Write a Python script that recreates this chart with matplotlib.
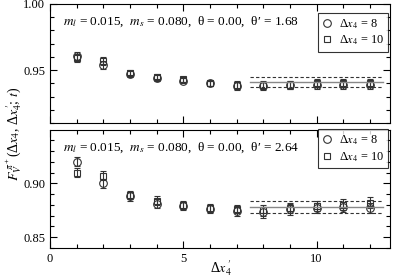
import matplotlib
matplotlib.use("Agg")
import matplotlib.pyplot as plt
import numpy as np
from matplotlib.ticker import MultipleLocator

plt.rcParams['font.family'] = ['Liberation Serif', 'DejaVu Serif']
plt.rcParams['mathtext.fontset'] = 'stix'

x = [1, 2, 3, 4, 5, 6, 7, 8, 9, 10, 11, 12]

# top panel (theta' = 1.68)
top_c = [0.961, 0.954, 0.947, 0.944, 0.942, 0.940, 0.938, 0.938, 0.939, 0.939, 0.939, 0.939]
top_c_err = [0.003, 0.003, 0.002, 0.002, 0.002, 0.002, 0.003, 0.003, 0.003, 0.003, 0.003, 0.003]
top_s = [0.959, 0.957, 0.948, 0.945, 0.943, 0.940, 0.939, 0.939, 0.939, 0.940, 0.940, 0.940]
top_s_err = [0.003, 0.003, 0.002, 0.002, 0.002, 0.002, 0.003, 0.003, 0.003, 0.003, 0.003, 0.003]
top_fit = [0.941, 0.9375, 0.9445]

# bottom panel (theta' = 2.64)
bot_c = [0.920, 0.900, 0.888, 0.881, 0.879, 0.876, 0.874, 0.873, 0.876, 0.877, 0.878, 0.877]
bot_c_err = [0.004, 0.004, 0.004, 0.004, 0.004, 0.004, 0.004, 0.005, 0.005, 0.005, 0.005, 0.005]
bot_s = [0.910, 0.907, 0.889, 0.884, 0.880, 0.877, 0.876, 0.875, 0.877, 0.879, 0.880, 0.882]
bot_s_err = [0.004, 0.004, 0.004, 0.004, 0.004, 0.004, 0.004, 0.005, 0.005, 0.005, 0.005, 0.005]
bot_fit = [0.878, 0.872, 0.884]

fit_range = [7.5, 12.5]

texts = ["$m_l$ = 0.015,  $m_s$ = 0.080,  θ = 0.00,  θ′ = 1.68",
         "$m_l$ = 0.015,  $m_s$ = 0.080,  θ = 0.00,  θ′ = 2.64"]
leg_labels = ["Δ$x_4$ = 8", "Δ$x_4$ = 10"]

fig = plt.figure(figsize=(3.99, 2.80), dpi=100)
L, R = 50/399, 390/399
ax1 = fig.add_axes([L, 1-123/280, R-L, (123-4)/280])
ax2 = fig.add_axes([L, 1-248/280, R-L, (248-129.5)/280])

def panel(ax, c, ce, s, se, fit, txt, ylim, legy):
    ekw = dict(fmt='none', ecolor='#333333', elinewidth=0.8, capsize=2.5, capthick=0.8)
    ax.errorbar(x, c, yerr=ce, **ekw)
    ax.errorbar(x, s, yerr=se, **ekw)
    ax.plot(x, c, 'o', mfc='none', mec='#333333', ms=5.5, mew=0.8, ls='none', label=leg_labels[0])
    ax.plot(x, s, 's', mfc='none', mec='#333333', ms=5, mew=0.8, ls='none', label=leg_labels[1])
    ax.plot(fit_range, [fit[0]]*2, color='#888888', lw=1.0)
    ax.plot(fit_range, [fit[1]]*2, color='#333333', lw=0.8, ls=(0, (3, 2)))
    ax.plot(fit_range, [fit[2]]*2, color='#333333', lw=0.8, ls=(0, (3, 2)))
    ax.set_xlim(0, 12.75)
    ax.set_ylim(*ylim)
    ax.xaxis.set_major_locator(MultipleLocator(5))
    ax.xaxis.set_minor_locator(MultipleLocator(1))
    ax.yaxis.set_major_locator(MultipleLocator(0.05))
    ax.yaxis.set_minor_locator(MultipleLocator(0.01))
    ax.tick_params(which='both', direction='in', top=True, right=True, labelsize=9, width=0.8)
    ax.tick_params(which='major', length=5)
    ax.tick_params(which='minor', length=3)
    ax.yaxis.set_major_formatter(matplotlib.ticker.FormatStrFormatter('%.2f'))
    for sp in ax.spines.values():
        sp.set_linewidth(0.8)
    ax.text(0.038, 0.85, txt, transform=ax.transAxes, fontsize=9.5, va='center')
    leg = ax.legend(loc='upper right', bbox_to_anchor=(0.995, legy), fontsize=8.8, frameon=True,
                    fancybox=False, edgecolor='black', handlelength=0.8, handletextpad=0.6,
                    borderpad=0.35, labelspacing=0.25, borderaxespad=0)
    leg.get_frame().set_linewidth(0.8)

panel(ax1, top_c, top_c_err, top_s, top_s_err, top_fit, texts[0], (0.91, 1.00), 0.925)
panel(ax2, bot_c, bot_c_err, bot_s, bot_s_err, bot_fit, texts[1], (0.84, 0.9499), 1.0)
ax1.tick_params(labelbottom=False)
ax2.set_xticks([0, 5, 10])
ax2.xaxis.set_major_formatter(matplotlib.ticker.FormatStrFormatter('%d'))

fig.text(221/399, 1-268/280, r"Δ$x_4^{\,\prime}$", ha='center', va='center', fontsize=10)
fig.text(14/399, 1-134/280, r"$F_V^{\,\pi^+}$(Δ$x_4$, Δ$x_4^{\,\prime}$; $t$)",
         rotation=90, ha='center', va='center', fontsize=10)

fig.savefig('out.png', dpi=100)
